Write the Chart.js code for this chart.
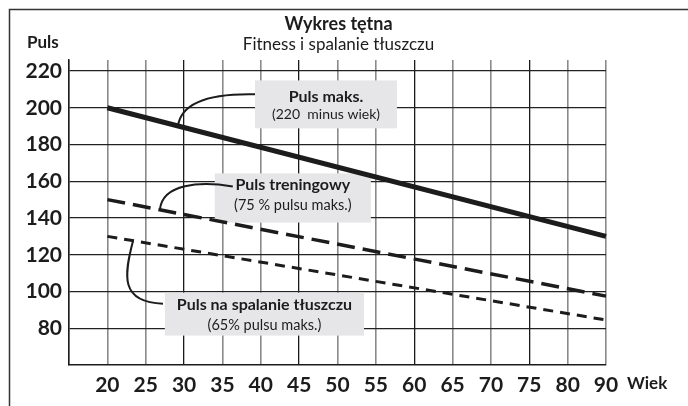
<!DOCTYPE html>
<html>
<head>
<meta charset="utf-8">
<script src="https://cdn.jsdelivr.net/npm/chart.js@4/dist/chart.umd.min.js"></script>
<style>
  html, body { margin: 0; padding: 0; background: #fff; }
  canvas { display: block; }
</style>
</head>
<body>
<canvas id="pulseChart" width="688" height="406"></canvas>
<script>
// age axis: one empty slot before 20, and the last column is labelled 90
const AGE_LABELS = ['', '20', '25', '30', '35', '40', '45', '50', '55', '60', '65', '70', '75', '80', '90'];
const Y_TICKS = [80, 100, 120, 140, 160, 180, 200, 220];

// each line runs from age 20 to age 90
const LINE_AGES = ['20', '90'];
const MAX_PULSE = [200, 130];        // 220 minus age
const TRAINING_PULSE = [150, 97.5];  // 75 %
const FAT_BURN_PULSE = [130, 84.5];  // 65 %

const FONT = 'Lato, "Noto Sans", sans-serif';
const INK = '#1c1c1c';

function toPoints(values) {
  return LINE_AGES.map((a, i) => ({ x: a, y: values[i] }));
}

// value of a straight series at a (fractional) category index
function valueAt(values, idx) {
  const i0 = AGE_LABELS.indexOf(LINE_AGES[0]);
  const i1 = AGE_LABELS.indexOf(LINE_AGES[1]);
  const t = (idx - i0) / (i1 - i0);
  return values[0] + (values[1] - values[0]) * t;
}

// callout boxes, in axis units (x = category index, y = pulse)
const CALLOUTS = [
  {
    box: [4.85, 8.55, 214.9, 188.8],
    lines: [['Puls maks.', 'bold 16px', 22], ['(220  minus wiek)', '14px', 39]],
    leader: [[4.85, 207.3], [3.81, 207.8], [2.94, 204.0]],
    target: [2.84, MAX_PULSE]
  },
  {
    box: [3.8, 7.87, 164.3, 137.5],
    lines: [['Puls treningowy', 'bold 16px', 17], ['(75 % pulsu maks.)', '14.5px', 37]],
    leader: [[4.27, 157.2], [3.42, 160.0], [2.43, 158.9]],
    target: [2.37, TRAINING_PULSE]
  },
  {
    box: [2.5, 7.69, 99.4, 76.0],
    lines: [['Puls na spalanie tłuszczu', 'bold 16px', 17], ['(65% pulsu maks.)', '14.5px', 37]],
    leader: [[2.45, 93.4], [1.33, 94.0], [1.43, 108.7]],
    target: [1.67, FAT_BURN_PULSE]
  }
];

const calloutPlugin = {
  id: 'callouts',
  beforeDatasetsDraw(chart) {
    const { ctx, scales: { x, y } } = chart;
    ctx.save();
    for (const c of CALLOUTS) {
      const [x0, x1, y0, y1] = c.box;
      const left = x.getPixelForValue(x0), right = x.getPixelForValue(x1);
      const top = y.getPixelForValue(y0), bottom = y.getPixelForValue(y1);
      ctx.fillStyle = '#e6e6e8';
      ctx.fillRect(left, top, right - left, bottom - top);
      ctx.fillStyle = INK;
      ctx.textAlign = 'center';
      ctx.textBaseline = 'alphabetic';
      for (const [text, font, dy] of c.lines) {
        ctx.font = font + ' ' + FONT;
        ctx.fillText(text, (left + right) / 2, top + dy);
      }
    }
    ctx.restore();
  },
  afterDatasetsDraw(chart) {
    const { ctx, scales: { x, y } } = chart;
    ctx.save();
    ctx.strokeStyle = INK;
    ctx.lineWidth = 2;
    for (const c of CALLOUTS) {
      const p = c.leader.map(([a, b]) => [x.getPixelForValue(a), y.getPixelForValue(b)]);
      const [ti, series] = c.target;
      const end = [x.getPixelForValue(ti), y.getPixelForValue(valueAt(series, ti))];
      ctx.beginPath();
      ctx.moveTo(p[0][0], p[0][1]);
      ctx.bezierCurveTo(p[1][0], p[1][1], p[2][0], p[2][1], end[0], end[1]);
      ctx.stroke();
    }
    ctx.restore();
  }
};

const framePlugin = {
  id: 'frame',
  beforeDraw(chart) {
    const { ctx, width, height } = chart;
    ctx.save();
    ctx.strokeStyle = '#333';
    ctx.lineWidth = 1.5;
    ctx.beginPath();
    ctx.moveTo(9.5, height);
    ctx.lineTo(9.5, 9.5);
    ctx.lineTo(width, 9.5);
    ctx.stroke();
    ctx.restore();
  },
  afterDraw(chart) {
    const { ctx, chartArea } = chart;
    const cx = (chartArea.left + chartArea.right) / 2;
    ctx.save();
    ctx.fillStyle = INK;
    ctx.textBaseline = 'alphabetic';
    ctx.textAlign = 'center';
    ctx.font = 'bold 18px ' + FONT;
    ctx.fillText('Wykres tętna', cx + 1, 30);
    ctx.font = '17px ' + FONT;
    ctx.fillText('Fitness i spalanie tłuszczu', cx + 1, 50);
    ctx.textAlign = 'left';
    ctx.font = 'bold 17px ' + FONT;
    ctx.fillText('Puls', 27, 48);
    ctx.fillText('Wiek', chartArea.right + 21, 389);
    ctx.restore();
  }
};

const ctx = document.getElementById('pulseChart').getContext('2d');
new Chart(ctx, {
  type: 'line',
  data: {
    labels: AGE_LABELS,
    datasets: [
      { label: 'Puls maks.', data: toPoints(MAX_PULSE), borderColor: INK, borderWidth: 5, pointRadius: 0 },
      { label: 'Puls treningowy', data: toPoints(TRAINING_PULSE), borderColor: INK, borderWidth: 3.5, borderDash: [18, 8], pointRadius: 0 },
      { label: 'Puls na spalanie tłuszczu', data: toPoints(FAT_BURN_PULSE), borderColor: INK, borderWidth: 3, borderDash: [10, 7], pointRadius: 0 }
    ]
  },
  options: {
    responsive: false,
    animation: false,
    layout: { padding: { top: 60, right: 82, left: 0, bottom: 0 } },
    plugins: { legend: { display: false }, tooltip: { enabled: false } },
    scales: {
      x: {
        type: 'category',
        offset: false,
        afterFit: s => { s.height = 41; },
        border: { color: INK, width: 1.5 },
        grid: {
          drawTicks: false,
          color: c => (c.index % 3 === 0 ? '#1a1a1a' : '#8a8a8a'),
          lineWidth: c => (c.index % 3 === 0 ? 1.3 : 1.6)
        },
        ticks: { autoSkip: false, maxRotation: 0, padding: 8, color: INK, font: { family: FONT, size: 21, weight: 'bold' } }
      },
      y: {
        min: 60,
        max: 226,
        afterFit: s => { s.width = 69; },
        afterBuildTicks: s => { s.ticks = Y_TICKS.map(v => ({ value: v })); },
        border: { color: INK, width: 1.5 },
        grid: { drawTicks: false, color: '#222', lineWidth: 1.3 },
        ticks: { padding: 7, color: INK, font: { family: FONT, size: 21, weight: 'bold' } }
      }
    }
  },
  plugins: [calloutPlugin, framePlugin]
});
</script>
</body>
</html>
